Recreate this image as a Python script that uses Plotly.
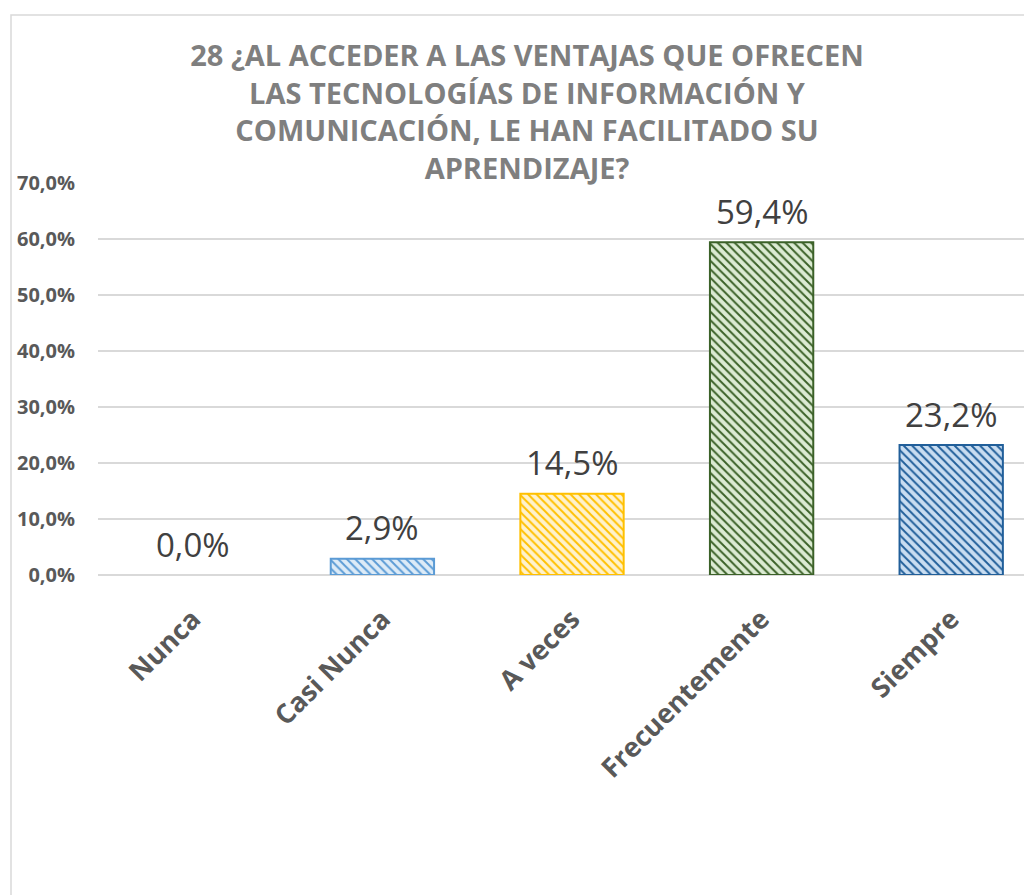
import plotly.graph_objects as go

categories = ["Nunca", "Casi Nunca", "A veces", "Frecuentemente", "Siempre"]
values = [0.0, 2.9, 14.5, 59.4, 23.2]
labels = ["0,0%", "2,9%", "14,5%", "59,4%", "23,2%"]
tick_vals = [0, 10, 20, 30, 40, 50, 60, 70]
tick_text = ["0,0%", "10,0%", "20,0%", "30,0%", "40,0%", "50,0%", "60,0%", "70,0%"]
title_text = ("28 ¿AL ACCEDER A LAS VENTAJAS QUE OFRECEN<br>LAS TECNOLOGÍAS DE INFORMACIÓN Y<br>"
              "COMUNICACIÓN, LE HAN FACILITADO SU<br>APRENDIZAJE?")

border_colors = ["#5B9BD5", "#5B9BD5", "#FFC000", "#3B6128", "#215F9A"]
border_widths = [0, 2, 2, 2, 2]
bg_colors = ["#DDEBF7", "#DDEBF7", "#FFF2CC", "#DCEBD3", "#C9DDF1"]
fg_colors = ["#5B9BD5", "#5B9BD5", "#FFC000", "#3B6128", "#215F9A"]

# page has an 8px body margin; figure sized to fill the rest of the window
OX, OY = 8, 8
W, H = 1032 - OX, 895 - OY


def px(x):
    return (x - OX) / W


def py(y):
    return 1 - (y - OY) / H


cat_w = 189.5
fig = go.Figure()
for c, v, bc, bw, bg, fg in zip(categories, values, border_colors, border_widths, bg_colors, fg_colors):
    fig.add_trace(go.Bar(
        x=[c], y=[v], name=c,
        cliponaxis=False, width=0.545,
        marker=dict(
            color=bg,
            line=dict(color=bc, width=bw),
            pattern=dict(shape="\\", fgcolor=fg, bgcolor=bg,
                         size=6, solidity=0.32, fgopacity=1, fillmode="replace"),
        ),
        hoverinfo="skip",
    ))

annotations = [
    dict(x=c, y=v, xref="x", yref="y", text=t, showarrow=False,
         yanchor="middle", xanchor="center", yshift=31,
         font=dict(family="Open Sans", size=33, color="#404040"))
    for c, v, t in zip(categories, values, labels)
]

fig.update_layout(
    width=W, height=H,
    margin=dict(l=0, r=0, t=0, b=0, autoexpand=False),
    paper_bgcolor="white", plot_bgcolor="white",
    showlegend=False,
    barmode="overlay",
    annotations=annotations,
    title=dict(text=title_text, x=px(527), xanchor="center",
               y=py(66), yanchor="middle",
               font=dict(family="Open Sans", size=29, color="#7F7F7F", weight="bold")),
    xaxis=dict(domain=[px(98), 1], range=[-0.5, 4.5 - (1046 - 1032) / cat_w],
               categoryorder="array", categoryarray=categories,
               showgrid=False, showline=False, zeroline=False, automargin=False,
               tickangle=-45, ticks="",
               tickfont=dict(family="Open Sans", size=27, color="#595959", weight="bold"),
               ticklabelstandoff=22),
    yaxis=dict(domain=[py(575), py(183)], range=[0, 70], automargin=False,
               tickvals=tick_vals, ticktext=tick_text,
               showgrid=True, gridcolor="#D9D9D9", gridwidth=1.5,
               zeroline=True, zerolinecolor="#D9D9D9", zerolinewidth=1.5,
               showline=False, ticks="",
               tickfont=dict(family="Open Sans", size=20, color="#595959", weight="bold"),
               ticklabelstandoff=22),
    shapes=[dict(type="rect", xref="paper", yref="paper",
                 x0=px(11), x1=1.01, y0=-0.01, y1=py(15),
                 line=dict(color="#D9D9D9", width=1.5), fillcolor="rgba(0,0,0,0)", layer="below")],
)

fig.write_html("out.html")
